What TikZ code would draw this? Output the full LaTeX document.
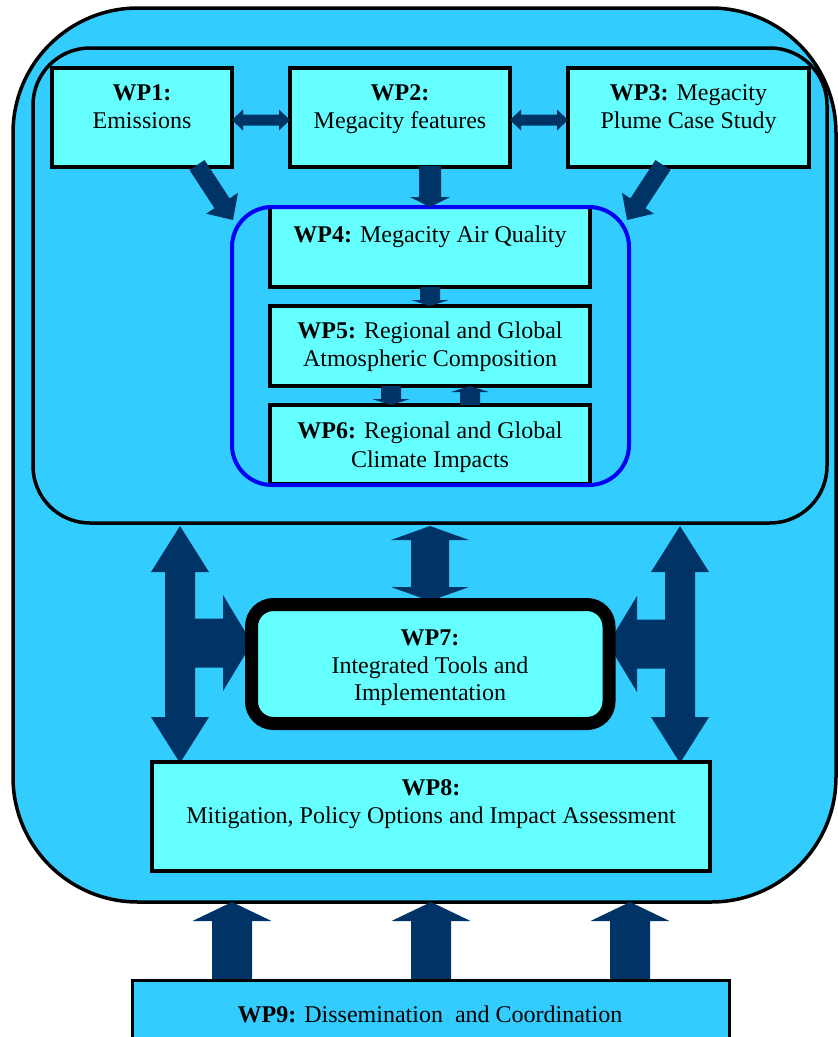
\documentclass[tikz,border=0pt]{standalone}
\usepackage{fontspec}
\setmainfont{Liberation Serif}
\usetikzlibrary{calc}
\definecolor{outerblue}{RGB}{51,204,255}
\definecolor{boxcyan}{RGB}{102,255,255}
\definecolor{navyarrow}{RGB}{0,51,102}
\definecolor{rimblue}{RGB}{0,0,245}
% single block arrow: #1 start (shaft centre), #2 tip, #3 shaft half width, #4 head half width, #5 head length
\newcommand\blockarrow[5]{%
  \path ($(#2)!#5!(#1)$) coordinate (baB);
  \fill[arrowfill] ($(#1)!#3!90:(#2)$) -- ($(baB)!#3!90:(#2)$) -- ($(baB)!#4!90:(#2)$) -- (#2)
    -- ($(baB)!#4!-90:(#2)$) -- ($(baB)!#3!-90:(#2)$) -- ($(#1)!#3!-90:(#2)$) -- cycle;}
% double block arrow between tips #1 and #2
\newcommand\blockdarrow[5]{%
  \path ($(#1)!#5!(#2)$) coordinate (bdA) ($(#2)!#5!(#1)$) coordinate (bdB);
  \fill[arrowfill] (#1) -- ($(bdA)!#4!90:(#2)$) -- ($(bdA)!#3!90:(#2)$) -- ($(bdB)!#3!-90:(#1)$)
    -- ($(bdB)!#4!-90:(#1)$) -- (#2) -- ($(bdB)!#4!90:(#1)$) -- ($(bdB)!#3!90:(#1)$)
    -- ($(bdA)!#3!-90:(#2)$) -- ($(bdA)!#4!-90:(#2)$) -- cycle;}
\begin{document}
\begin{tikzpicture}[x=1pt,y=-1pt,
  every node/.style={font=\fontsize{24}{28}\selectfont},
  box/.style={draw=black, line width=4pt, fill=boxcyan, inner sep=0pt},
  txt/.style={anchor=base, inner sep=0pt},
  arrowfill/.style={fill=navyarrow}]
\useasboundingbox (0,0) rectangle (838,1037);
\clip (0,0) rectangle (838,1037);
% frames
\node[draw=black, line width=3.5pt, fill=outerblue, rounded corners=125pt, inner sep=0pt,
      minimum width=823pt, minimum height=894pt] (outer) at (424.5,455) {};
\node[draw=black, line width=3.5pt, rounded corners=57pt, inner sep=0pt,
      minimum width=794pt, minimum height=475pt] (inner) at (430,285.5) {};
% top boxes
\node[box, minimum width=180pt, minimum height=99pt] (wp1) at (142,117.5) {};
\node[box, minimum width=220pt, minimum height=99pt] (wp2) at (400,117.5) {};
\node[box, minimum width=241pt, minimum height=99pt] (wp3) at (688.5,117.5) {};
\node[box, minimum width=320pt, minimum height=80pt] (wp4) at (430,247) {};
\node[box, minimum width=320pt, minimum height=80pt] (wp5) at (430,346) {};
\node[box, minimum width=320pt, minimum height=79pt] (wp6) at (430,444.5) {};
\node[draw=rimblue, line width=4pt, rounded corners=40pt, inner sep=0pt,
      minimum width=397pt, minimum height=278pt] (rim) at (430.5,346) {};
% arrow end points
\coordinate (a1s) at (197,165);  \coordinate (a1t) at (233,220);
\coordinate (a2s) at (430,166);  \coordinate (a2t) at (430,207);
\coordinate (a3s) at (663,165);  \coordinate (a3t) at (627,220);
\coordinate (h12a) at (232,120); \coordinate (h12b) at (290,120);
\coordinate (h23a) at (510,120); \coordinate (h23b) at (568,120);
\coordinate (v45s) at (430,287); \coordinate (v45t) at (430,306);
\coordinate (v56s) at (391,386); \coordinate (v56t) at (391,405);
\coordinate (v65s) at (470,405); \coordinate (v65t) at (470,386);
\coordinate (c7a) at (430,526);  \coordinate (c7b) at (430,601);
\coordinate (lva) at (180,526);  \coordinate (lvb) at (180,763);
\coordinate (lbs) at (180,643);  \coordinate (lbt) at (252,643);
\coordinate (rva) at (680,526);  \coordinate (rvb) at (680,763);
\coordinate (rbs) at (680,644);  \coordinate (rbt) at (608,644);
\coordinate (b1s) at (232,981);  \coordinate (b1t) at (232,902);
\coordinate (b2s) at (431,981);  \coordinate (b2t) at (431,902);
\coordinate (b3s) at (630,981);  \coordinate (b3t) at (630,902);
% arrows
\blockarrow{a1s}{a1t}{9pt}{19pt}{20pt}
\blockarrow{a2s}{a2t}{11pt}{20pt}{10pt}
\blockarrow{a3s}{a3t}{9pt}{19pt}{20pt}
\blockdarrow{h12a}{h12b}{5.5pt}{10.5pt}{11pt}
\blockdarrow{h23a}{h23b}{5.5pt}{10.5pt}{11pt}
\blockarrow{v45s}{v45t}{10pt}{19pt}{6pt}
\blockarrow{v56s}{v56t}{10pt}{19pt}{6pt}
\blockarrow{v65s}{v65t}{10pt}{19pt}{6pt}
\blockdarrow{c7a}{c7b}{19pt}{39pt}{14pt}
\blockdarrow{lva}{lvb}{15pt}{29pt}{46pt}
\blockarrow{lbs}{lbt}{24.5pt}{48pt}{29pt}
\blockdarrow{rva}{rvb}{15pt}{29pt}{46pt}
\blockarrow{rbs}{rbt}{24.5pt}{48pt}{29pt}
\blockarrow{b1s}{b1t}{20pt}{39.5pt}{19pt}
\blockarrow{b2s}{b2t}{20pt}{39.5pt}{19pt}
\blockarrow{b3s}{b3t}{20pt}{39.5pt}{19pt}
% lower boxes
\node[draw=black, line width=13pt, fill=boxcyan, rounded corners=22pt, inner sep=0pt,
      minimum width=357.5pt, minimum height=119pt] (wp7) at (430.25,664) {};
\node[box, minimum width=558pt, minimum height=109pt] (wp8) at (431,816.5) {};
\node[draw=black, line width=3pt, fill=outerblue, inner sep=0pt,
      minimum width=597pt, minimum height=80pt] (wp9) at (430.5,1020) {};
% texts
\node[txt] (wp1a) at (142,100) {\textbf{WP1:}};
\node[txt] (wp1b) at (142,128) {Emissions};
\node[txt] (wp2a) at (400,100) {\textbf{WP2:}};
\node[txt] (wp2b) at (400,128) {Megacity features};
\node[txt] (wp3a) at (688.5,100) {\textbf{WP3:} Megacity};
\node[txt] (wp3b) at (688.5,128) {Plume Case Study};
\node[txt] (wp4a) at (430,242) {\textbf{WP4:} Megacity Air Quality};
\node[txt] (wp5a) at (430,338) {\textbf{WP5:} Regional and Global};
\node[txt] (wp5b) at (430,366) {Atmospheric Composition};
\node[txt] (wp6a) at (430,438) {\textbf{WP6:} Regional and Global};
\node[txt] (wp6b) at (430,467) {Climate Impacts};
\node[txt] (wp7a) at (430,645) {\textbf{WP7:}};
\node[txt] (wp7b) at (430,673) {Integrated Tools and};
\node[txt] (wp7c) at (430,700) {Implementation};
\node[txt] (wp8a) at (431,795) {\textbf{WP8:}};
\node[txt] (wp8b) at (431,823) {Mitigation, Policy Options and Impact Assessment};
\node[txt] (wp9a) at (430,1022) {\textbf{WP9:} Dissemination \ and Coordination};
\end{tikzpicture}
\end{document}
